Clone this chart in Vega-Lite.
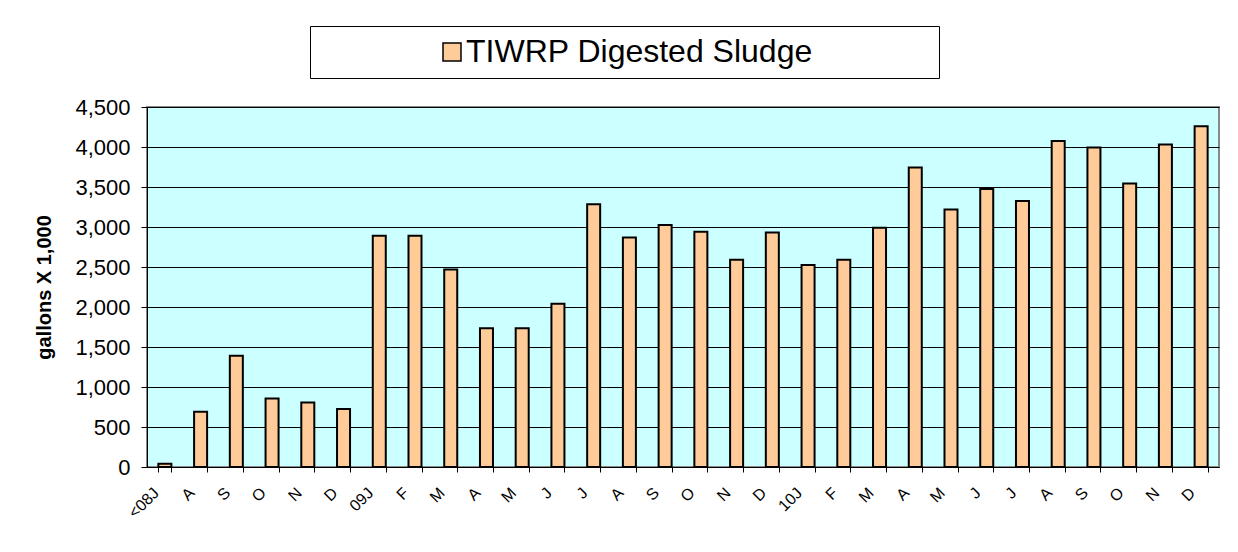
{
  "$schema": "https://vega.github.io/schema/vega-lite/v6.json",
  "autosize": "none",
  "width": 1072,
  "height": 360,
  "padding": {"left": 147, "top": 107, "right": 19, "bottom": 85},
  "background": "white",
  "data": {
    "values": [
      {"key": "<08J", "v": 40, "series": "TIWRP Digested Sludge"},
      {"key": "A 08", "v": 690, "series": "TIWRP Digested Sludge"},
      {"key": "S 08", "v": 1390, "series": "TIWRP Digested Sludge"},
      {"key": "O 08", "v": 855, "series": "TIWRP Digested Sludge"},
      {"key": "N 08", "v": 805, "series": "TIWRP Digested Sludge"},
      {"key": "D 08", "v": 725, "series": "TIWRP Digested Sludge"},
      {"key": "09J", "v": 2890, "series": "TIWRP Digested Sludge"},
      {"key": "F 09", "v": 2890, "series": "TIWRP Digested Sludge"},
      {"key": "M 09a", "v": 2470, "series": "TIWRP Digested Sludge"},
      {"key": "A 09a", "v": 1735, "series": "TIWRP Digested Sludge"},
      {"key": "M 09b", "v": 1735, "series": "TIWRP Digested Sludge"},
      {"key": "J 09a", "v": 2040, "series": "TIWRP Digested Sludge"},
      {"key": "J 09b", "v": 3285, "series": "TIWRP Digested Sludge"},
      {"key": "A 09b", "v": 2870, "series": "TIWRP Digested Sludge"},
      {"key": "S 09", "v": 3025, "series": "TIWRP Digested Sludge"},
      {"key": "O 09", "v": 2940, "series": "TIWRP Digested Sludge"},
      {"key": "N 09", "v": 2590, "series": "TIWRP Digested Sludge"},
      {"key": "D 09", "v": 2930, "series": "TIWRP Digested Sludge"},
      {"key": "10J", "v": 2525, "series": "TIWRP Digested Sludge"},
      {"key": "F 10", "v": 2590, "series": "TIWRP Digested Sludge"},
      {"key": "M 10a", "v": 2990, "series": "TIWRP Digested Sludge"},
      {"key": "A 10a", "v": 3745, "series": "TIWRP Digested Sludge"},
      {"key": "M 10b", "v": 3220, "series": "TIWRP Digested Sludge"},
      {"key": "J 10a", "v": 3475, "series": "TIWRP Digested Sludge"},
      {"key": "J 10b", "v": 3325, "series": "TIWRP Digested Sludge"},
      {"key": "A 10b", "v": 4075, "series": "TIWRP Digested Sludge"},
      {"key": "S 10", "v": 3995, "series": "TIWRP Digested Sludge"},
      {"key": "O 10", "v": 3545, "series": "TIWRP Digested Sludge"},
      {"key": "N 10", "v": 4030, "series": "TIWRP Digested Sludge"},
      {"key": "D 10", "v": 4260, "series": "TIWRP Digested Sludge"}
    ]
  },
  "mark": {"type": "bar", "stroke": "black", "strokeWidth": 2},
  "encoding": {
    "x": {
      "field": "key",
      "type": "nominal",
      "sort": null,
      "scale": {"paddingInner": 0.636, "paddingOuter": 0.318},
      "axis": {
        "title": null,
        "labelExpr": "split(datum.label, ' ')[0]",
        "labelAngle": -45,
        "labelAlign": "right",
        "labelBaseline": "middle",
        "labelOffset": -9,
        "labelPadding": 18,
        "labelFontSize": 16,
        "labelFont": "Liberation Sans",
        "labelColor": "black",
        "tickBand": "extent",
        "tickSize": 5,
        "tickColor": "black",
        "domainColor": "black",
        "grid": false
      }
    },
    "y": {
      "field": "v",
      "type": "quantitative",
      "scale": {"domain": [0, 4500]},
      "axis": {
        "values": [0, 500, 1000, 1500, 2000, 2500, 3000, 3500, 4000, 4500],
        "format": ",.0f",
        "title": "gallons X 1,000",
        "titleFont": "Liberation Sans",
        "titleFontSize": 20,
        "titleFontWeight": "bold",
        "titleColor": "black",
        "titlePadding": 20,
        "labelFont": "Liberation Sans",
        "labelFontSize": 22,
        "labelColor": "black",
        "labelPadding": 11,
        "tickSize": 6,
        "tickColor": "black",
        "domainColor": "black",
        "gridColor": "black",
        "gridWidth": 1
      }
    },
    "color": {
      "field": "series",
      "type": "nominal",
      "scale": {"range": ["#FFCC99"]},
      "legend": {
        "orient": "none",
        "legendX": 163,
        "legendY": -81,
        "title": null,
        "padding": 10,
        "strokeColor": "black",
        "fillColor": "white",
        "symbolType": "square",
        "symbolSize": 324,
        "symbolStrokeColor": "black",
        "symbolStrokeWidth": 1.5,
        "symbolFillColor": "#FFCC99",
        "symbolOffset": 116,
        "labelFontSize": 32,
        "labelFont": "Liberation Sans",
        "labelColor": "black",
        "labelOffset": -2,
        "labelLimit": 1000,
        "labelExpr": "datum.label + '\u00a0\u00a0\u00a0\u00a0\u00a0\u00a0\u00a0\u00a0\u00a0\u00a0\u00a0\u00a0\u00a0\u200b'"
      }
    }
  },
  "config": {
    "view": {"fill": "#CCFFFF", "stroke": "#888888", "strokeWidth": 2},
    "font": "Liberation Sans"
  }
}
